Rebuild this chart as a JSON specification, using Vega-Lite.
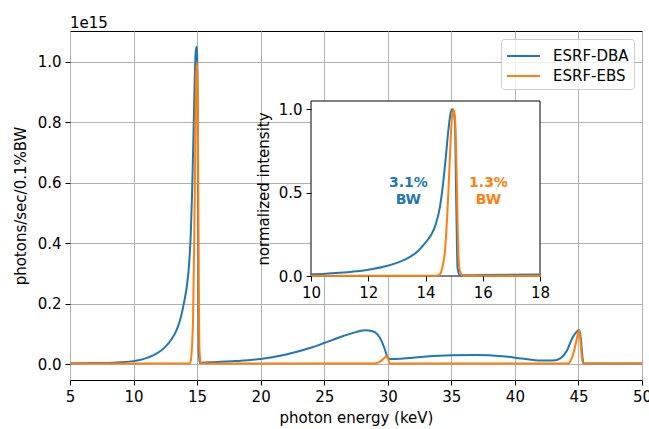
{
  "$schema": "https://vega.github.io/schema/vega-lite/v6.json",
  "width": 572,
  "height": 349,
  "autosize": {"type": "none"},
  "padding": {"left": 70, "top": 31, "right": 7, "bottom": 49},
  "background": "white",
  "title": {
    "text": "1e15",
    "anchor": "start",
    "frame": "group",
    "fontSize": 15,
    "fontWeight": "normal",
    "font": "DejaVu Sans",
    "color": "black",
    "offset": 0
  },
  "config": {
    "font": "DejaVu Sans",
    "view": {"stroke": "black", "strokeWidth": 1},
    "axis": {
      "labelFont": "DejaVu Sans",
      "titleFont": "DejaVu Sans",
      "labelFontSize": 15,
      "titleFontSize": 15,
      "titleFontWeight": "normal",
      "labelColor": "black",
      "titleColor": "black",
      "tickColor": "black",
      "tickSize": 5,
      "tickWidth": 1,
      "domain": false,
      "labelFlush": false,
      "gridColor": "#b0b0b0",
      "gridWidth": 1,
      "gridOpacity": 1
    },
    "legend": {
      "labelFont": "DejaVu Sans",
      "labelFontSize": 15,
      "labelColor": "black"
    }
  },
  "datasets": {
    "main": [
      {"energy": 5, "flux": 0.003, "series": "ESRF-DBA"},
      {"energy": 6, "flux": 0.003, "series": "ESRF-DBA"},
      {"energy": 7, "flux": 0.004, "series": "ESRF-DBA"},
      {"energy": 8, "flux": 0.004, "series": "ESRF-DBA"},
      {"energy": 9, "flux": 0.006, "series": "ESRF-DBA"},
      {"energy": 10, "flux": 0.010, "series": "ESRF-DBA"},
      {"energy": 10.5, "flux": 0.014, "series": "ESRF-DBA"},
      {"energy": 11, "flux": 0.020, "series": "ESRF-DBA"},
      {"energy": 11.5, "flux": 0.028, "series": "ESRF-DBA"},
      {"energy": 12, "flux": 0.040, "series": "ESRF-DBA"},
      {"energy": 12.5, "flux": 0.057, "series": "ESRF-DBA"},
      {"energy": 13, "flux": 0.083, "series": "ESRF-DBA"},
      {"energy": 13.3, "flux": 0.105, "series": "ESRF-DBA"},
      {"energy": 13.5, "flux": 0.125, "series": "ESRF-DBA"},
      {"energy": 13.75, "flux": 0.16, "series": "ESRF-DBA"},
      {"energy": 14, "flux": 0.21, "series": "ESRF-DBA"},
      {"energy": 14.2, "flux": 0.26, "series": "ESRF-DBA"},
      {"energy": 14.35, "flux": 0.32, "series": "ESRF-DBA"},
      {"energy": 14.5, "flux": 0.43, "series": "ESRF-DBA"},
      {"energy": 14.6, "flux": 0.56, "series": "ESRF-DBA"},
      {"energy": 14.7, "flux": 0.73, "series": "ESRF-DBA"},
      {"energy": 14.8, "flux": 0.92, "series": "ESRF-DBA"},
      {"energy": 14.87, "flux": 1.02, "series": "ESRF-DBA"},
      {"energy": 14.93, "flux": 1.05, "series": "ESRF-DBA"},
      {"energy": 14.98, "flux": 1.04, "series": "ESRF-DBA"},
      {"energy": 15.03, "flux": 0.95, "series": "ESRF-DBA"},
      {"energy": 15.08, "flux": 0.4, "series": "ESRF-DBA"},
      {"energy": 15.12, "flux": 0.05, "series": "ESRF-DBA"},
      {"energy": 15.2, "flux": 0.004, "series": "ESRF-DBA"},
      {"energy": 16, "flux": 0.006, "series": "ESRF-DBA"},
      {"energy": 18, "flux": 0.010, "series": "ESRF-DBA"},
      {"energy": 20, "flux": 0.017, "series": "ESRF-DBA"},
      {"energy": 22, "flux": 0.032, "series": "ESRF-DBA"},
      {"energy": 24, "flux": 0.055, "series": "ESRF-DBA"},
      {"energy": 25, "flux": 0.070, "series": "ESRF-DBA"},
      {"energy": 26.5, "flux": 0.093, "series": "ESRF-DBA"},
      {"energy": 27.5, "flux": 0.106, "series": "ESRF-DBA"},
      {"energy": 28.2, "flux": 0.112, "series": "ESRF-DBA"},
      {"energy": 28.8, "flux": 0.109, "series": "ESRF-DBA"},
      {"energy": 29.2, "flux": 0.098, "series": "ESRF-DBA"},
      {"energy": 29.5, "flux": 0.078, "series": "ESRF-DBA"},
      {"energy": 29.8, "flux": 0.045, "series": "ESRF-DBA"},
      {"energy": 30.0, "flux": 0.020, "series": "ESRF-DBA"},
      {"energy": 30.2, "flux": 0.017, "series": "ESRF-DBA"},
      {"energy": 31, "flux": 0.018, "series": "ESRF-DBA"},
      {"energy": 33, "flux": 0.025, "series": "ESRF-DBA"},
      {"energy": 35, "flux": 0.029, "series": "ESRF-DBA"},
      {"energy": 37, "flux": 0.030, "series": "ESRF-DBA"},
      {"energy": 39, "flux": 0.026, "series": "ESRF-DBA"},
      {"energy": 40.5, "flux": 0.019, "series": "ESRF-DBA"},
      {"energy": 42, "flux": 0.012, "series": "ESRF-DBA"},
      {"energy": 43, "flux": 0.012, "series": "ESRF-DBA"},
      {"energy": 43.6, "flux": 0.020, "series": "ESRF-DBA"},
      {"energy": 44.1, "flux": 0.045, "series": "ESRF-DBA"},
      {"energy": 44.5, "flux": 0.085, "series": "ESRF-DBA"},
      {"energy": 44.8, "flux": 0.104, "series": "ESRF-DBA"},
      {"energy": 45.05, "flux": 0.114, "series": "ESRF-DBA"},
      {"energy": 45.2, "flux": 0.08, "series": "ESRF-DBA"},
      {"energy": 45.3, "flux": 0.03, "series": "ESRF-DBA"},
      {"energy": 45.4, "flux": 0.002, "series": "ESRF-DBA"},
      {"energy": 50, "flux": 0.002, "series": "ESRF-DBA"},
      {"energy": 5, "flux": 0.002, "series": "ESRF-EBS"},
      {"energy": 14.4, "flux": 0.002, "series": "ESRF-EBS"},
      {"energy": 14.5, "flux": 0.01, "series": "ESRF-EBS"},
      {"energy": 14.6, "flux": 0.06, "series": "ESRF-EBS"},
      {"energy": 14.68, "flux": 0.15, "series": "ESRF-EBS"},
      {"energy": 14.77, "flux": 0.4, "series": "ESRF-EBS"},
      {"energy": 14.85, "flux": 0.7, "series": "ESRF-EBS"},
      {"energy": 14.91, "flux": 0.92, "series": "ESRF-EBS"},
      {"energy": 14.97, "flux": 1.0, "series": "ESRF-EBS"},
      {"energy": 15.03, "flux": 0.95, "series": "ESRF-EBS"},
      {"energy": 15.09, "flux": 0.6, "series": "ESRF-EBS"},
      {"energy": 15.13, "flux": 0.25, "series": "ESRF-EBS"},
      {"energy": 15.18, "flux": 0.05, "series": "ESRF-EBS"},
      {"energy": 15.23, "flux": 0.02, "series": "ESRF-EBS"},
      {"energy": 15.3, "flux": 0.002, "series": "ESRF-EBS"},
      {"energy": 28.9, "flux": 0.002, "series": "ESRF-EBS"},
      {"energy": 29.3, "flux": 0.006, "series": "ESRF-EBS"},
      {"energy": 29.6, "flux": 0.015, "series": "ESRF-EBS"},
      {"energy": 29.9, "flux": 0.026, "series": "ESRF-EBS"},
      {"energy": 30.05, "flux": 0.015, "series": "ESRF-EBS"},
      {"energy": 30.15, "flux": 0.002, "series": "ESRF-EBS"},
      {"energy": 44.2, "flux": 0.002, "series": "ESRF-EBS"},
      {"energy": 44.4, "flux": 0.012, "series": "ESRF-EBS"},
      {"energy": 44.6, "flux": 0.035, "series": "ESRF-EBS"},
      {"energy": 44.8, "flux": 0.07, "series": "ESRF-EBS"},
      {"energy": 44.95, "flux": 0.1, "series": "ESRF-EBS"},
      {"energy": 45.05, "flux": 0.113, "series": "ESRF-EBS"},
      {"energy": 45.15, "flux": 0.08, "series": "ESRF-EBS"},
      {"energy": 45.25, "flux": 0.03, "series": "ESRF-EBS"},
      {"energy": 45.35, "flux": 0.002, "series": "ESRF-EBS"},
      {"energy": 50, "flux": 0.002, "series": "ESRF-EBS"}
    ],
    "inset": [
      {"energy": 10, "norm": 0.010, "series": "ESRF-DBA"},
      {"energy": 10.5, "norm": 0.013, "series": "ESRF-DBA"},
      {"energy": 11, "norm": 0.019, "series": "ESRF-DBA"},
      {"energy": 11.5, "norm": 0.027, "series": "ESRF-DBA"},
      {"energy": 12, "norm": 0.038, "series": "ESRF-DBA"},
      {"energy": 12.5, "norm": 0.054, "series": "ESRF-DBA"},
      {"energy": 13, "norm": 0.079, "series": "ESRF-DBA"},
      {"energy": 13.3, "norm": 0.100, "series": "ESRF-DBA"},
      {"energy": 13.5, "norm": 0.119, "series": "ESRF-DBA"},
      {"energy": 13.75, "norm": 0.152, "series": "ESRF-DBA"},
      {"energy": 14, "norm": 0.200, "series": "ESRF-DBA"},
      {"energy": 14.2, "norm": 0.248, "series": "ESRF-DBA"},
      {"energy": 14.35, "norm": 0.305, "series": "ESRF-DBA"},
      {"energy": 14.5, "norm": 0.41, "series": "ESRF-DBA"},
      {"energy": 14.6, "norm": 0.533, "series": "ESRF-DBA"},
      {"energy": 14.7, "norm": 0.695, "series": "ESRF-DBA"},
      {"energy": 14.8, "norm": 0.876, "series": "ESRF-DBA"},
      {"energy": 14.87, "norm": 0.971, "series": "ESRF-DBA"},
      {"energy": 14.93, "norm": 1.0, "series": "ESRF-DBA"},
      {"energy": 14.98, "norm": 0.99, "series": "ESRF-DBA"},
      {"energy": 15.03, "norm": 0.905, "series": "ESRF-DBA"},
      {"energy": 15.08, "norm": 0.381, "series": "ESRF-DBA"},
      {"energy": 15.12, "norm": 0.048, "series": "ESRF-DBA"},
      {"energy": 15.2, "norm": 0.004, "series": "ESRF-DBA"},
      {"energy": 16, "norm": 0.006, "series": "ESRF-DBA"},
      {"energy": 18, "norm": 0.0095, "series": "ESRF-DBA"},
      {"energy": 10, "norm": 0.002, "series": "ESRF-EBS"},
      {"energy": 14.4, "norm": 0.002, "series": "ESRF-EBS"},
      {"energy": 14.5, "norm": 0.01, "series": "ESRF-EBS"},
      {"energy": 14.6, "norm": 0.06, "series": "ESRF-EBS"},
      {"energy": 14.68, "norm": 0.15, "series": "ESRF-EBS"},
      {"energy": 14.77, "norm": 0.4, "series": "ESRF-EBS"},
      {"energy": 14.85, "norm": 0.7, "series": "ESRF-EBS"},
      {"energy": 14.91, "norm": 0.92, "series": "ESRF-EBS"},
      {"energy": 14.97, "norm": 1.0, "series": "ESRF-EBS"},
      {"energy": 15.03, "norm": 0.95, "series": "ESRF-EBS"},
      {"energy": 15.09, "norm": 0.6, "series": "ESRF-EBS"},
      {"energy": 15.13, "norm": 0.25, "series": "ESRF-EBS"},
      {"energy": 15.18, "norm": 0.05, "series": "ESRF-EBS"},
      {"energy": 15.23, "norm": 0.02, "series": "ESRF-EBS"},
      {"energy": 15.3, "norm": 0.002, "series": "ESRF-EBS"},
      {"energy": 18, "norm": 0.002, "series": "ESRF-EBS"}
    ],
    "insetFrame": [
      {"lo": 10, "hi": 18, "bottom": 0, "top": 1.05}
    ],
    "bandwidth": [
      {"energy": 13.4, "norm": 0.556, "label": "3.1%", "series": "ESRF-DBA"},
      {"energy": 13.4, "norm": 0.454, "label": "BW", "series": "ESRF-DBA"},
      {"energy": 16.2, "norm": 0.556, "label": "1.3%", "series": "ESRF-EBS"},
      {"energy": 16.2, "norm": 0.454, "label": "BW", "series": "ESRF-EBS"}
    ]
  },
  "layer": [
    {
      "data": {"name": "main"},
      "mark": {"type": "line", "strokeWidth": 2, "interpolate": "monotone"},
      "encoding": {
        "x": {
          "field": "energy",
          "type": "quantitative",
          "scale": {"domain": [5, 50], "nice": false, "zero": false},
          "axis": {
            "values": [5, 10, 15, 20, 25, 30, 35, 40, 45, 50],
            "format": "d",
            "title": "photon energy (keV)",
            "labelPadding": 4,
            "titlePadding": 6,
            "zindex": 0
          }
        },
        "y": {
          "field": "flux",
          "type": "quantitative",
          "scale": {"domain": [-0.0525, 1.1025], "nice": false, "zero": false},
          "axis": {
            "values": [0, 0.2, 0.4, 0.6, 0.8, 1.0],
            "format": ".1f",
            "title": "photons/sec/0.1%BW",
            "labelPadding": 4,
            "titlePadding": 9,
            "zindex": 0
          }
        },
        "color": {
          "field": "series",
          "type": "nominal",
          "scale": {"domain": ["ESRF-DBA", "ESRF-EBS"], "range": ["#1f77b4", "#ff7f0e"]},
          "legend": {
            "title": null,
            "orient": "top-right",
            "offset": 8,
            "fillColor": "rgba(255,255,255,0.8)",
            "strokeColor": "#cccccc",
            "cornerRadius": 3,
            "padding": 5,
            "rowPadding": 0,
            "symbolType": "M-1,0L2,0",
            "symbolSize": 484,
            "symbolStrokeWidth": 2,
            "symbolFillColor": "transparent",
            "labelOffset": 23
          }
        }
      }
    },
    {
      "layer": [
        {
          "data": {"name": "insetFrame"},
          "mark": {"type": "rect", "fill": "white", "stroke": "black", "strokeWidth": 1},
          "encoding": {
            "x": {
              "field": "lo",
              "type": "quantitative",
              "scale": {"domain": [10, 18], "range": [241, 470], "nice": false, "zero": false},
              "axis": {
                "orient": "bottom",
                "offset": -104,
                "values": [10, 12, 14, 16, 18],
                "format": "d",
                "grid": false,
                "title": null,
                "labelPadding": 4,
                "zindex": 2
              }
            },
            "x2": {"field": "hi"},
            "y": {
              "field": "bottom",
              "type": "quantitative",
              "scale": {"domain": [0, 1.05], "range": [245, 70], "nice": false, "zero": false},
              "axis": {
                "orient": "left",
                "offset": -241,
                "values": [0, 0.5, 1.0],
                "format": ".1f",
                "grid": false,
                "title": "normalized intensity",
                "labelPadding": 4,
                "titlePadding": 7,
                "zindex": 2
              }
            },
            "y2": {"field": "top"}
          }
        },
        {
          "data": {"name": "inset"},
          "mark": {"type": "line", "strokeWidth": 2, "interpolate": "monotone"},
          "encoding": {
            "x": {"field": "energy", "type": "quantitative"},
            "y": {"field": "norm", "type": "quantitative"},
            "color": {"field": "series", "type": "nominal"}
          }
        },
        {
          "data": {"name": "bandwidth"},
          "mark": {
            "type": "text",
            "font": "DejaVu Sans",
            "fontSize": 14,
            "fontWeight": "bold",
            "align": "center",
            "baseline": "middle"
          },
          "encoding": {
            "x": {"field": "energy", "type": "quantitative"},
            "y": {"field": "norm", "type": "quantitative"},
            "text": {"field": "label"},
            "color": {"field": "series", "type": "nominal"}
          }
        }
      ]
    }
  ],
  "resolve": {
    "scale": {"x": "independent", "y": "independent"},
    "axis": {"x": "independent", "y": "independent"}
  }
}
